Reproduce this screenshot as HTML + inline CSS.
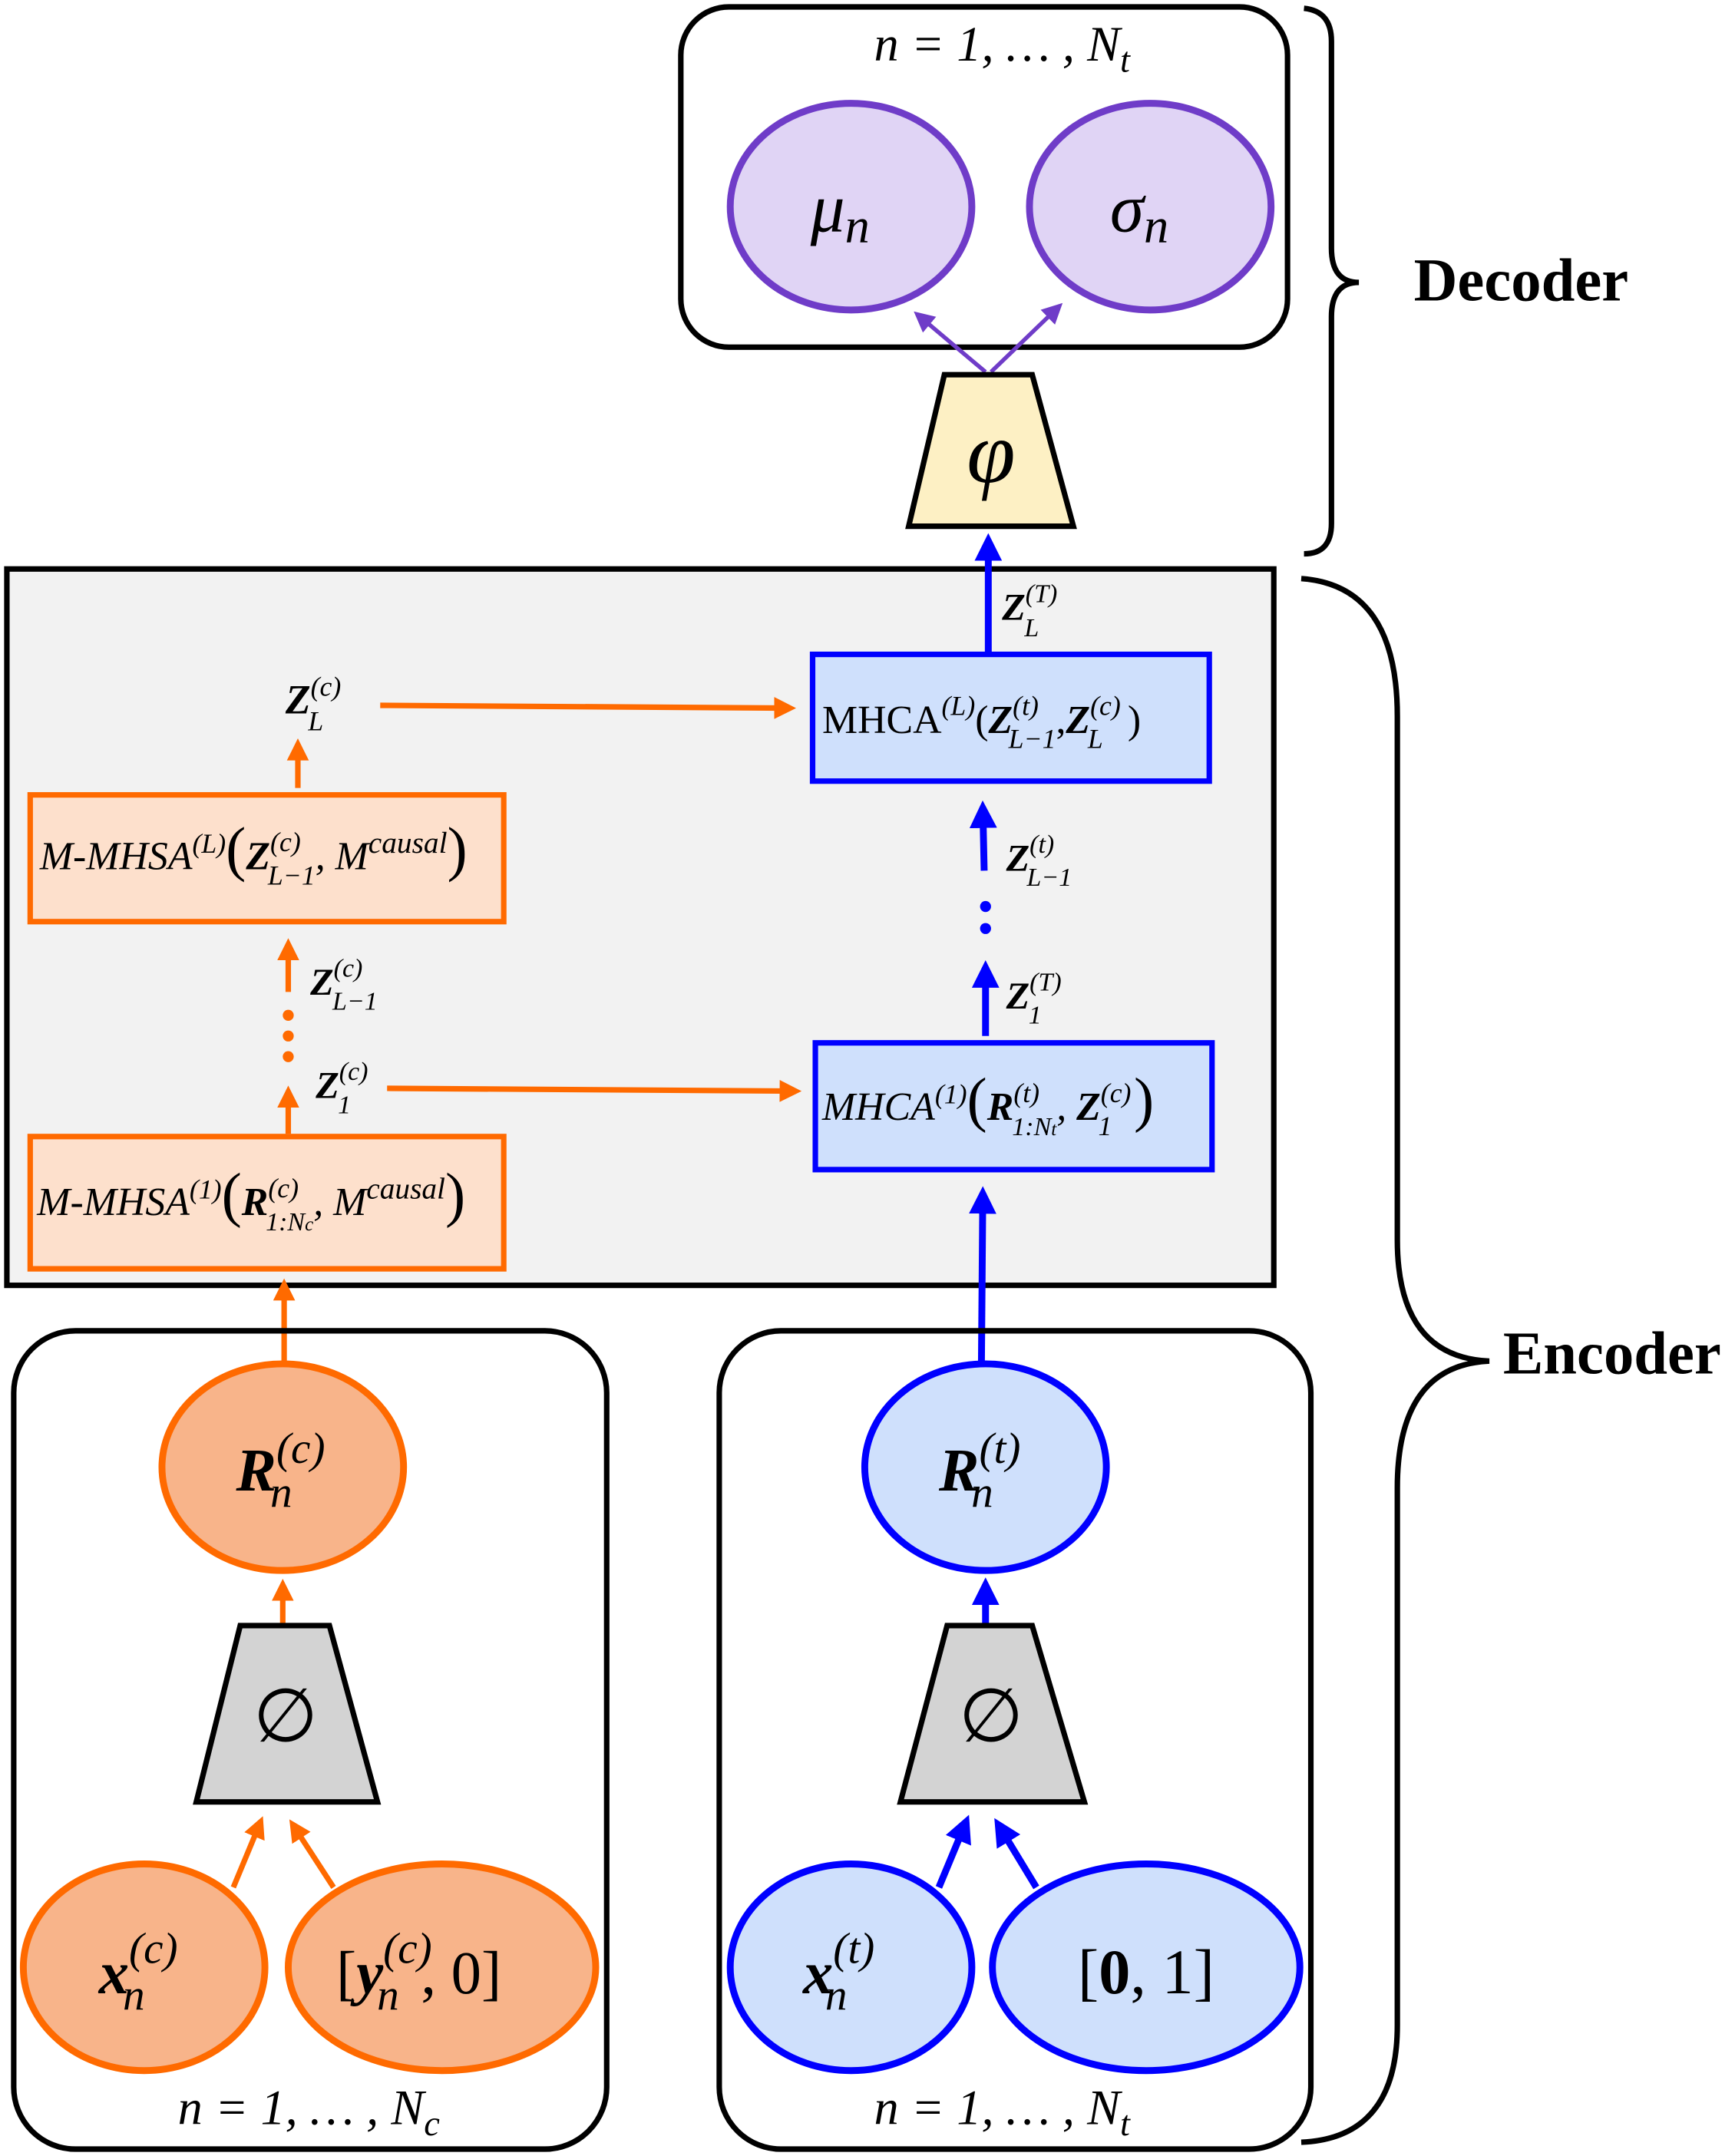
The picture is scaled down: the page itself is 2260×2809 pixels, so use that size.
<!DOCTYPE html>
<html><head><meta charset="utf-8"><style>
html,body{margin:0;padding:0;background:#fff}
svg{display:block}
text{font-family:"Liberation Serif",serif}
.m{font-style:italic}
</style></head><body>
<svg width="2260" height="2809" viewBox="0 0 1264 1565" preserveAspectRatio="none" xmlns="http://www.w3.org/2000/svg">
<defs>
<marker id="ao" markerWidth="4" markerHeight="4" refX="3" refY="2" orient="auto" markerUnits="strokeWidth"><path d="M0,0 L4,2 L0,4 z" fill="#ff6a00"/></marker>
<marker id="ab" markerWidth="4" markerHeight="4" refX="3" refY="2" orient="auto" markerUnits="strokeWidth"><path d="M0,0 L4,2 L0,4 z" fill="#0000ff"/></marker>
<marker id="ap" markerWidth="5" markerHeight="5" refX="4" refY="2.5" orient="auto" markerUnits="strokeWidth"><path d="M0,0 L5,2.5 L0,5 z" fill="#6f3cc8"/></marker>
</defs>
<!-- Decoder -->
<rect x="496" y="5" width="442" height="247" rx="35" fill="#fff" stroke="#000" stroke-width="4"/>
<text x="730" y="44" font-size="36" text-anchor="middle" class="m">n = 1, … , N<tspan font-size="26" dy="8">t</tspan></text>
<ellipse cx="620" cy="150" rx="88" ry="75" fill="#e0d4f5" stroke="#6f3cc8" stroke-width="5"/>
<ellipse cx="838" cy="150" rx="88" ry="75" fill="#e0d4f5" stroke="#6f3cc8" stroke-width="5"/>
<text x="612" y="168" font-size="50" text-anchor="middle" class="m">μ<tspan font-size="36" dy="8">n</tspan></text>
<text x="830" y="168" font-size="50" text-anchor="middle" class="m">σ<tspan font-size="36" dy="8">n</tspan></text>
<line x1="718" y1="270" x2="668" y2="228" stroke="#6f3cc8" stroke-width="3" marker-end="url(#ap)"/>
<line x1="722" y1="270" x2="772" y2="222" stroke="#6f3cc8" stroke-width="3" marker-end="url(#ap)"/>
<polygon points="688,272 752,272 782,382 662,382" fill="#fdf0c4" stroke="#000" stroke-width="4"/>
<text x="722" y="350" font-size="64" text-anchor="middle" class="m">φ</text>
<path d="M950,6 Q970,8 970,30 L970,180 Q970,205 990,205 Q970,205 970,230 L970,380 Q970,402 950,402" fill="none" stroke="#000" stroke-width="4"/>
<text x="1030" y="218" font-size="44" font-weight="bold">Decoder</text>
<!-- Encoder -->
<rect x="5" y="413" width="923" height="520" fill="#f2f2f2" stroke="#000" stroke-width="4"/>
<path d="M948,420 Q1018,425 1018,520 L1018,900 Q1018,985 1085,988 Q1018,991 1018,1080 L1018,1470 Q1018,1552 948,1555" fill="none" stroke="#000" stroke-width="4"/>
<text x="1095" y="997" font-size="44" font-weight="bold">Encoder</text>
<line x1="720" y1="473" x2="720" y2="392" stroke="#0000ff" stroke-width="5" marker-end="url(#ab)"/>
<text x="730" y="450" font-size="28" font-weight="bold" class="m">Z<tspan font-size="19" dy="-13" font-weight="normal">(T)</tspan><tspan font-size="19" dx="-24" dy="25" font-weight="normal">L</tspan></text>
<rect x="592" y="475" width="289" height="92" fill="#cfe0fc" stroke="#0000ff" stroke-width="4"/>
<text x="599" y="532" font-size="29">MHCA<tspan font-size="20" dy="-13" class="m">(L)</tspan><tspan dy="13">(</tspan><tspan font-weight="bold" class="m">Z</tspan><tspan font-size="20" dy="-13" class="m">(t)</tspan><tspan font-size="20" dx="-22" dy="24" class="m">L−1</tspan><tspan dy="-11">,</tspan><tspan font-weight="bold" class="m">Z</tspan><tspan font-size="20" dy="-13" class="m">(c)</tspan><tspan font-size="20" dx="-24" dy="24" class="m">L</tspan><tspan dy="-11" dx="18">)</tspan></text>
<text x="208" y="518" font-size="30" font-weight="bold" class="m">Z<tspan font-size="20" dy="-13" font-weight="normal">(c)</tspan><tspan font-size="20" dx="-24" dy="25" font-weight="normal">L</tspan></text>
<line x1="277" y1="512" x2="576" y2="514" stroke="#ff6a00" stroke-width="4" marker-end="url(#ao)"/>
<line x1="217" y1="572" x2="217" y2="540" stroke="#ff6a00" stroke-width="4" marker-end="url(#ao)"/>
<rect x="22" y="577" width="345" height="92" fill="#fde0cc" stroke="#ff6a00" stroke-width="4"/>
<text x="29" y="631" font-size="29" class="m">M-MHSA<tspan font-size="20" dy="-12">(L)</tspan><tspan dy="12" font-size="44" font-style="normal">(</tspan><tspan font-weight="bold">Z</tspan><tspan font-size="20" dy="-13">(c)</tspan><tspan font-size="20" dx="-24" dy="24">L−1</tspan><tspan dy="-11">, M</tspan><tspan font-size="22" dy="-12">causal</tspan><tspan dy="12" font-size="44" font-style="normal">)</tspan></text>
<line x1="210" y1="720" x2="210" y2="685" stroke="#ff6a00" stroke-width="4" marker-end="url(#ao)"/>
<circle cx="210" cy="737" r="4" fill="#ff6a00"/><circle cx="210" cy="752" r="4" fill="#ff6a00"/><circle cx="210" cy="767" r="4" fill="#ff6a00"/>
<text x="226" y="722" font-size="28" font-weight="bold" class="m">Z<tspan font-size="19" dy="-13" font-weight="normal">(c)</tspan><tspan font-size="19" dx="-22" dy="24" font-weight="normal">L−1</tspan></text>
<text x="230" y="797" font-size="28" font-weight="bold" class="m">Z<tspan font-size="19" dy="-13" font-weight="normal">(c)</tspan><tspan font-size="19" dx="-22" dy="24" font-weight="normal">1</tspan></text>
<line x1="210" y1="823" x2="210" y2="792" stroke="#ff6a00" stroke-width="4" marker-end="url(#ao)"/>
<line x1="282" y1="790" x2="580" y2="792" stroke="#ff6a00" stroke-width="4" marker-end="url(#ao)"/>
<rect x="22" y="825" width="345" height="96" fill="#fde0cc" stroke="#ff6a00" stroke-width="4"/>
<text x="27" y="882" font-size="29" class="m">M-MHSA<tspan font-size="20" dy="-12">(1)</tspan><tspan dy="12" font-size="44" font-style="normal">(</tspan><tspan font-weight="bold">R</tspan><tspan font-size="20" dy="-13">(c)</tspan><tspan font-size="19" dx="-24" dy="24">1:N<tspan font-size="14">c</tspan></tspan><tspan dy="-11">, M</tspan><tspan font-size="22" dy="-12">causal</tspan><tspan dy="12" font-size="44" font-style="normal">)</tspan></text>
<rect x="594" y="757" width="289" height="92" fill="#cfe0fc" stroke="#0000ff" stroke-width="4"/>
<text x="599" y="813" font-size="29" class="m">MHCA<tspan font-size="20" dy="-12">(1)</tspan><tspan dy="12" font-size="44" font-style="normal">(</tspan><tspan font-weight="bold">R</tspan><tspan font-size="20" dy="-13">(t)</tspan><tspan font-size="19" dx="-20" dy="24">1:N<tspan font-size="14">t</tspan></tspan><tspan dy="-11">, </tspan><tspan font-weight="bold">Z</tspan><tspan font-size="20" dy="-13">(c)</tspan><tspan font-size="20" dx="-24" dy="24">1</tspan><tspan dy="-11" dx="16" font-size="44" font-style="normal">)</tspan></text>
<line x1="718" y1="752" x2="718" y2="702" stroke="#0000ff" stroke-width="5" marker-end="url(#ab)"/>
<text x="733" y="732" font-size="28" font-weight="bold" class="m">Z<tspan font-size="19" dy="-13" font-weight="normal">(T)</tspan><tspan font-size="19" dx="-24" dy="24" font-weight="normal">1</tspan></text>
<circle cx="718" cy="658" r="4" fill="#0000ff"/><circle cx="718" cy="674" r="4" fill="#0000ff"/>
<line x1="717" y1="632" x2="716" y2="586" stroke="#0000ff" stroke-width="5" marker-end="url(#ab)"/>
<text x="733" y="632" font-size="28" font-weight="bold" class="m">Z<tspan font-size="19" dy="-13" font-weight="normal">(t)</tspan><tspan font-size="19" dx="-20" dy="24" font-weight="normal">L−1</tspan></text>
<line x1="715" y1="990" x2="716" y2="866" stroke="#0000ff" stroke-width="5" marker-end="url(#ab)"/>
<line x1="207" y1="990" x2="207" y2="932" stroke="#ff6a00" stroke-width="4" marker-end="url(#ao)"/>
<!-- bottom boxes -->
<rect x="10" y="966" width="432" height="594" rx="45" fill="none" stroke="#000" stroke-width="4"/>
<rect x="524" y="966" width="431" height="594" rx="45" fill="none" stroke="#000" stroke-width="4"/>
<ellipse cx="206" cy="1065" rx="88" ry="75" fill="#f8b48a" stroke="#ff6a00" stroke-width="5"/>
<text x="172" y="1082" font-size="44" font-weight="bold" class="m">R<tspan font-size="32" dy="-20" font-weight="normal">(c)</tspan><tspan font-size="32" dx="-40" dy="32" font-weight="normal">n</tspan></text>
<ellipse cx="718" cy="1065" rx="88" ry="75" fill="#cfe0fc" stroke="#0000ff" stroke-width="5"/>
<text x="684" y="1082" font-size="44" font-weight="bold" class="m">R<tspan font-size="32" dy="-20" font-weight="normal">(t)</tspan><tspan font-size="32" dx="-36" dy="32" font-weight="normal">n</tspan></text>
<line x1="206" y1="1180" x2="206" y2="1150" stroke="#ff6a00" stroke-width="4" marker-end="url(#ao)"/>
<line x1="718" y1="1180" x2="718" y2="1150" stroke="#0000ff" stroke-width="5" marker-end="url(#ab)"/>
<polygon points="175,1180 240,1180 275,1308 143,1308" fill="#d3d3d3" stroke="#000" stroke-width="4"/>
<polygon points="690,1180 752,1180 790,1308 656,1308" fill="#d3d3d3" stroke="#000" stroke-width="4"/>
<text x="208" y="1264" font-size="54" text-anchor="middle">∅</text>
<text x="722" y="1264" font-size="54" text-anchor="middle">∅</text>
<ellipse cx="105" cy="1428" rx="88" ry="75" fill="#f8b48a" stroke="#ff6a00" stroke-width="5"/>
<ellipse cx="322" cy="1428" rx="112" ry="75" fill="#f8b48a" stroke="#ff6a00" stroke-width="5"/>
<ellipse cx="620" cy="1428" rx="88" ry="75" fill="#cfe0fc" stroke="#0000ff" stroke-width="5"/>
<ellipse cx="835" cy="1428" rx="112" ry="75" fill="#cfe0fc" stroke="#0000ff" stroke-width="5"/>
<text x="72" y="1447" font-size="44" font-weight="bold" class="m">x<tspan font-size="32" dy="-22" font-weight="normal">(c)</tspan><tspan font-size="32" dx="-40" dy="34" font-weight="normal">n</tspan></text>
<text x="245" y="1447" font-size="44">[<tspan font-weight="bold" class="m">y</tspan><tspan font-size="32" dy="-22" class="m">(c)</tspan><tspan font-size="32" dx="-40" dy="34" class="m">n</tspan><tspan dy="-12" dx="16">, 0]</tspan></text>
<text x="585" y="1447" font-size="44" font-weight="bold" class="m">x<tspan font-size="32" dy="-22" font-weight="normal">(t)</tspan><tspan font-size="32" dx="-36" dy="34" font-weight="normal">n</tspan></text>
<text x="835" y="1447" font-size="46" text-anchor="middle">[<tspan font-weight="bold">0</tspan>, 1]</text>
<line x1="170" y1="1370" x2="190" y2="1322" stroke="#ff6a00" stroke-width="4" marker-end="url(#ao)"/>
<line x1="243" y1="1370" x2="213" y2="1324" stroke="#ff6a00" stroke-width="4" marker-end="url(#ao)"/>
<line x1="684" y1="1370" x2="704" y2="1322" stroke="#0000ff" stroke-width="5" marker-end="url(#ab)"/>
<line x1="755" y1="1370" x2="727" y2="1324" stroke="#0000ff" stroke-width="5" marker-end="url(#ab)"/>
<text x="225" y="1542" font-size="36" text-anchor="middle" class="m">n = 1, … , N<tspan font-size="26" dy="8">c</tspan></text>
<text x="730" y="1542" font-size="36" text-anchor="middle" class="m">n = 1, … , N<tspan font-size="26" dy="8">t</tspan></text>
</svg>
</body></html>
